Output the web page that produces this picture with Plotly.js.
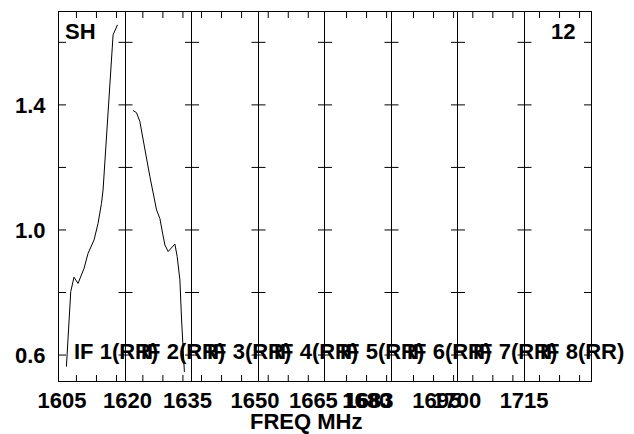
<!DOCTYPE html>
<html><head><meta charset="utf-8">
<script src="https://cdn.plot.ly/plotly-3.0.1.min.js"></script>
<style>html,body{margin:0;padding:0;background:#fff}#chart{width:634px;height:434px}</style>
</head><body><div id="chart"></div>
<script>
// IF panel names
const ifLabels = ["IF 1(RR)", "IF 2(RR)", "IF 3(RR)", "IF 4(RR)", "IF 5(RR)", "IF 6(RR)", "IF 7(RR)", "IF 8(RR)"];
// start frequency of each IF panel (MHz) and common panel width
const ifStartMHz = [1604.25, 1619.5, 1634.3, 1651.3, 1669.6, 1683.7, 1698.5, 1713.5];
const ifWidthMHz = 16.6;
// first small tick of each panel (MHz); one every 5 MHz
const tickStartMHz = [1608.6, 1623.83, 1636.68, 1653.73, 1674.98, 1689.2, 1702.2, 1717.25];
const tickStepMHz = 5;
// frequency labels under each panel
const freqLabelVals = [[1605], [1620, 1635], [1650], [1665], [1680, 1680.6], [1695, 1700], [1715], []];
const freqLabelText = [["1605"], ["1620", "1635"], ["1650"], ["1665"], ["1680", "1683"], ["1695", "1700"], ["1715"], []];
// y axis
const yRange = [0.517, 1.697];
const yTickVals = [0.6, 0.8, 1.0, 1.2, 1.4, 1.6];
const yTickText = ["0.6", "", "1.0", "", "1.4", ""];
// spectra (frequency MHz, amplitude)
const if1Freq = [1606.10, 1606.68, 1607.18, 1608.0, 1609.0, 1610.5, 1611.5, 1613.0, 1614.0, 1614.85, 1615.25, 1617.75, 1618.85];
const if1Amp  = [0.563, 0.712, 0.803, 0.849, 0.829, 0.877, 0.925, 0.968, 1.021, 1.085, 1.128, 1.624, 1.656];
const if2Freq = [1621.4, 1622.25, 1623.08, 1624.33, 1625.58, 1627.25, 1628.08, 1628.75, 1629.33, 1630.15, 1631.83, 1632.4, 1633.08, 1633.5, 1633.9, 1634.2];
const if2Amp  = [1.382, 1.375, 1.347, 1.256, 1.171, 1.064, 1.037, 0.99, 0.952, 0.931, 0.955, 0.915, 0.84, 0.712, 0.627, 0.546];
const sourceName = "SH";
const plotNumber = "12";
const xTitle = "FREQ MHz";

const FONT = "Liberation Sans, Arial, sans-serif";
const bigFont = {family: FONT, size: 22, color: "#000", weight: "bold"};
const N = ifLabels.length;
const seriesF = [if1Freq, if2Freq];
const seriesA = [if1Amp, if2Amp];
const tickLine = {color: "#000", width: 1};

const traces = [];
const layout = {
  width: 634, height: 434,
  margin: {l: 59, r: 43, t: 12, b: 53, pad: 0},
  paper_bgcolor: "#fff", plot_bgcolor: "#fff",
  showlegend: false,
  annotations: [],
  shapes: []
};
for (let p = 0; p < N; p++) {
  const sfx = p === 0 ? "" : String(p + 1);
  const d0 = p / N, d1 = (p + 1) / N;
  const minorVals = [];
  for (let t = tickStartMHz[p] - 3 * tickStepMHz; t <= ifStartMHz[p] + ifWidthMHz; t += tickStepMHz) {
    if (t > ifStartMHz[p] + 0.5 && t < ifStartMHz[p] + ifWidthMHz - 0.3) minorVals.push(t);
  }
  traces.push({
    type: "scatter", mode: "lines",
    x: seriesF[p] || [null], y: seriesA[p] || [null],
    xaxis: "x" + sfx, yaxis: "y" + sfx,
    line: {color: "#000", width: 1}
  });
  layout["xaxis" + sfx] = {
    domain: [d0, d1],
    range: [ifStartMHz[p], ifStartMHz[p] + ifWidthMHz],
    anchor: "y" + sfx,
    showline: true, linecolor: "#000", mirror: true,
    showgrid: false, zeroline: false,
    ticks: "", tickmode: "array", tickangle: 0,
    tickvals: freqLabelVals[p], ticktext: freqLabelText[p],
    tickfont: bigFont
  };
  layout["yaxis" + sfx] = {
    domain: [0, 1], range: yRange, anchor: "x" + sfx,
    showline: true, linecolor: "#000", mirror: p === N - 1,
    showgrid: false, zeroline: false,
    ticks: "", tickmode: "array", tickvals: yTickVals, ticktext: yTickText,
    showticklabels: p === 0, tickfont: bigFont, ticklabelstandoff: (p === 0 ? 8 : 0)
  };
  // small tick marks, drawn on the panel's own axes
  yTickVals.forEach(v => {
    layout.shapes.push({type: "line", xref: "paper", yref: "y" + sfx, xsizemode: "pixel", xanchor: d0,
      x0: 0, x1: 7, y0: v, y1: v, line: tickLine});
    layout.shapes.push({type: "line", xref: "paper", yref: "y" + sfx, xsizemode: "pixel", xanchor: d1,
      x0: -7, x1: 0, y0: v, y1: v, line: tickLine});
  });
  minorVals.forEach(t => {
    layout.shapes.push({type: "line", xref: "x" + sfx, yref: "paper", ysizemode: "pixel", yanchor: 0,
      y0: 0, y1: 6, x0: t, x1: t, line: tickLine});
    layout.shapes.push({type: "line", xref: "x" + sfx, yref: "paper", ysizemode: "pixel", yanchor: 1,
      y0: -6, y1: 0, x0: t, x1: t, line: tickLine});
  });
  layout.annotations.push({
    xref: "paper", yref: "paper", x: d0 + 0.025, y: 0.0795,
    xanchor: "left", yanchor: "middle", showarrow: false,
    text: ifLabels[p], font: bigFont
  });
}
layout.annotations.push({xref: "paper", yref: "paper", x: 0.007, y: 0.947, xanchor: "left", yanchor: "middle",
  showarrow: false, text: sourceName, font: bigFont});
layout.annotations.push({xref: "paper", yref: "paper", x: 0.9737, y: 0.948, xanchor: "right", yanchor: "middle",
  showarrow: false, text: plotNumber, font: bigFont});
layout.annotations.push({xref: "paper", yref: "paper", x: 0.4643, y: -0.1104, xanchor: "center", yanchor: "middle",
  showarrow: false, text: xTitle, font: bigFont});

Plotly.newPlot("chart", traces, layout, {staticPlot: true, displayModeBar: false});
</script></body></html>
